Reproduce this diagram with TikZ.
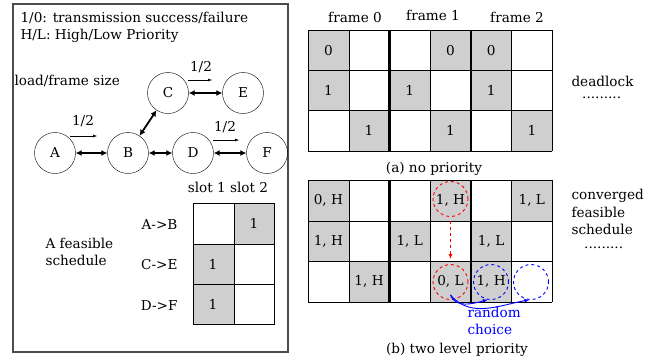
\documentclass[tikz,border=0pt]{standalone}
\usepackage{fontspec}
\setmainfont{DejaVu Serif}
\usetikzlibrary{arrows.meta}

\tikzset{
  station/.style={circle,draw,thin,minimum size=41pt,inner sep=0pt},
  link/.style={{Latex[length=6pt,width=6pt]}-{Latex[length=6pt,width=6pt]},line width=1.8pt},
  loadarrow/.style={-{Latex[length=4pt,width=3pt]},line width=0.5pt},
  busy/.style={fill=black!19},
  cell/.style={inner sep=0pt},
  redring/.style={circle,draw=red,dashed,line width=0.9pt,minimum size=35pt,inner sep=0pt},
  bluering/.style={circle,draw=blue,dashed,line width=0.9pt,minimum size=35pt,inner sep=0pt},
  framesep/.style={line width=2.6pt}
}

\begin{document}
\begin{tikzpicture}[x=1pt,y=-1pt,font=\fontsize{13.6}{17.5}\selectfont]
      \useasboundingbox (0,0) rectangle (657,362);
      % legend box
      \draw [black!70,line width=1.2pt] (13,4) rectangle (288,352);
      \node [anchor=west] (legone) at (17,18) {1/0: transmission success/failure};
      \node [anchor=west] (legtwo) at (17,36) {H/L: High/Low Priority};
      \node [anchor=west] (loadtxt) at (11,81) {load/frame size};

      % network
      \node [station] (A) at (55,153) {A};
      \node [station] (B) at (128,153) {B};
      \node [station] (C) at (168,93) {C};
      \node [station] (E) at (243,93) {E};
      \node [station] (D) at (193,153) {D};
      \node [station] (F) at (267,153) {F};
      \draw [link] (A) -- (B);
      \draw [link] (B) -- (D);
      \draw [link] (D) -- (F);
      \draw [link] (C) -- (E);
      \draw [link] (B) -- (C);
      \node (ldab) at (83,121) {1/2};
      \node (ldce) at (201,67) {1/2};
      \node (lddf) at (225,127) {1/2};
      \coordinate (ab0) at (70,136); \coordinate (ab1) at (97,136);
      \coordinate (ce0) at (188,80); \coordinate (ce1) at (212,80);
      \coordinate (df0) at (213,140); \coordinate (df1) at (239,140);
      \draw [loadarrow] (ab0) -- (ab1);
      \draw [loadarrow] (ce0) -- (ce1);
      \draw [loadarrow] (df0) -- (df1);

      % feasible schedule
      \node [anchor=west,align=left] (feas) at (42,252) {A feasible\\schedule};
      \node (slots) at (228,187) {slot 1 slot 2};
      \node [anchor=east] (rab) at (181,225) {A->B};
      \node [anchor=east] (rce) at (181,265) {C->E};
      \node [anchor=east] (rdf) at (181,306) {D->F};
      \fill [busy] (234,203) rectangle (274,244);
      \fill [busy] (193,244) rectangle (234,324);
      \draw [thin] (193,203) rectangle (274,324);
      \draw [thin] (234,203) -- (234,324);
      \draw [thin] (193,244) -- (274,244);
      \draw [thin] (193,284) -- (274,284);
      \node [cell] (sab) at (254,223) {1};
      \node [cell] (sce) at (213,264) {1};
      \node [cell] (sdf) at (213,304) {1};

      % (a) no priority
      \foreach \i/\j/\v in {0/0/0,3/0/0,4/0/0,0/1/1,2/1/1,4/1/1,1/2/1,3/2/1,5/2/1}{
        \fill [busy] (308+40.7*\i,30+40.3*\j) rectangle ++(40.7,40.3);
        \node [cell] (na-\i-\j) at (328.35+40.7*\i,50.15+40.3*\j) {\v};
      }
      \foreach \k in {0,...,6} \draw [thin] (308+40.7*\k,30) -- ++(0,121);
      \foreach \k in {0,...,3} \draw [thin] (308,30+40.3*\k) -- ++(244.2,0);
      \draw [framesep] (389.4,30) -- (389.4,151);
      \draw [framesep] (470.8,30) -- (470.8,151);
      \node (fzero) at (355,17) {frame 0};
      \node (fone) at (433,15) {frame 1};
      \node (ftwo) at (517,17) {frame 2};
      \node (capa) at (434,169) {(a) no priority};
      \node [anchor=west] (dead) at (568,81) {deadlock};
      \node [anchor=west,inner sep=0pt] (deaddots) at (582,98) {.........};

      % (b) two level priority
      \foreach \i/\j/\v in {0/0/{0, H},3/0/{1, H},5/0/{1, L},0/1/{1, H},2/1/{1, L},4/1/{1, L},1/2/{1, H},3/2/{0, L},4/2/{1, H}}{
        \fill [busy] (308+40.7*\i,180+40.7*\j) rectangle ++(40.7,40.7);
        \node [cell] (nb-\i-\j) at (328.35+40.7*\i,200.35+40.7*\j) {\v};
      }
      \foreach \k in {0,...,6} \draw [thin] (308+40.7*\k,180) -- ++(0,122);
      \foreach \k in {0,...,3} \draw [thin] (308,180+40.7*\k) -- ++(244.2,0);
      \draw [framesep] (389.4,180) -- (389.4,302);
      \draw [framesep] (470.8,180) -- (470.8,302);
      \node (capb) at (457,350) {(b) two level priority};
      \node [anchor=west,align=left] (conv) at (568,212) {converged\\feasible\\schedule};
      \node [anchor=west,inner sep=0pt] (convdots) at (584,248) {.........};

      % priority switch and random choice
      \node [redring] (hi) at (450.5,199) {};
      \node [redring] (lo) at (450.5,282) {};
      \node [bluering] (altone) at (491,282) {};
      \node [bluering] (alttwo) at (531,282) {};
      \draw [red,dashed,line width=0.9pt,-{Latex[length=5pt,width=4pt]},shorten <=4pt,shorten >=5pt] (hi) -- (lo);
      \draw [blue,line width=0.9pt,-{Latex[length=5pt,width=4pt]}] ([yshift=5pt]lo.south) to [out=-70,in=-165] (altone.-100);
      \draw [blue,line width=0.9pt,-{Latex[length=5pt,width=4pt]}] ([yshift=5pt]lo.south) to [out=-50,in=-170] (alttwo.-95);
      \node [blue,anchor=west,align=left] (rand) at (464,321) {random\\choice};
    \end{tikzpicture}
\end{document}
